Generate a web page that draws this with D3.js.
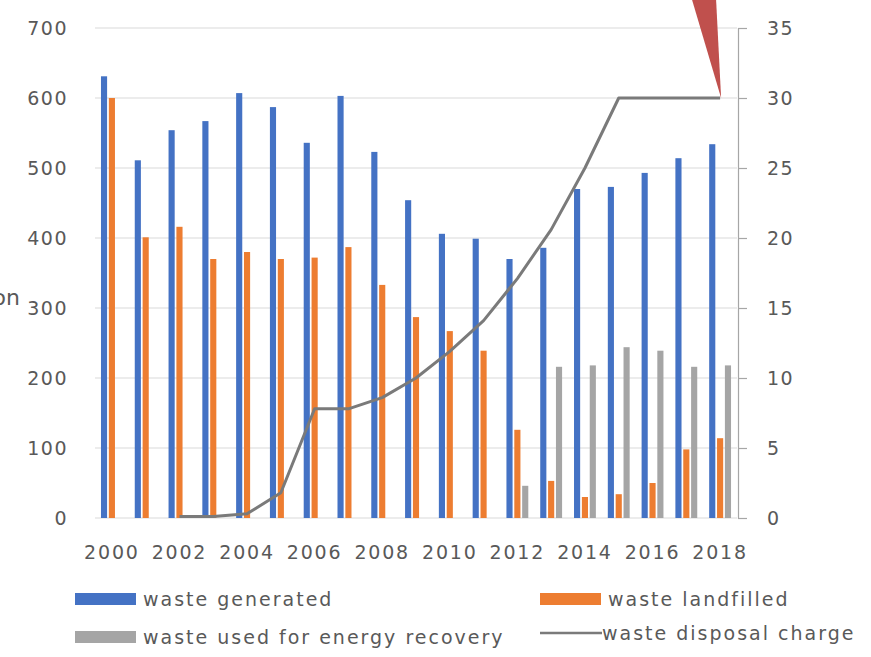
<!DOCTYPE html>
<html>
<head>
<meta charset="utf-8">
<script src="https://cdn.jsdelivr.net/npm/d3@7"></script>
<style>
  html, body { margin: 0; padding: 0; background: #fff; }
  svg { display: block; }
  text { font-family: "DejaVu Sans", sans-serif; fill: #595959; }
</style>
</head>
<body>
<svg id="chart" width="871" height="657"></svg>
<script>
// Municipal waste (thousand tonnes, left axis) and disposal charge (right axis)
const years = d3.range(2000, 2019);
const wasteGenerated = [631, 511, 554, 567, 607, 587, 536, 603, 523, 454, 406, 399, 370, 386, 470, 473, 493, 514, 534];
const wasteLandfilled = [600, 401, 416, 370, 380, 370, 372, 387, 333, 287, 267, 239, 126, 53, 30, 34, 50, 98, 114];
const wasteEnergy = [null, null, null, null, null, null, null, null, null, null, null, null, 46, 216, 218, 244, 239, 216, 218];
const disposalCharge = [null, null, 0.1, 0.1, 0.3, 1.8, 7.8, 7.8, 8.6, 10.0, 11.9, 14.1, 17.1, 20.6, 25.0, 30, 30, 30, 30];
const leftTicks = [0, 100, 200, 300, 400, 500, 600, 700];
const rightTicks = [0, 5, 10, 15, 20, 25, 30, 35];
const yearLabels = years.filter(y => y % 2 === 0);

const series = [
  { key: "waste generated", values: wasteGenerated, color: "#4472c4" },
  { key: "waste landfilled", values: wasteLandfilled, color: "#ed7d31" },
  { key: "waste used for energy recovery", values: wasteEnergy, color: "#a5a5a5" }
];
const lineColor = "#7a7a7a";

const svg = d3.select("#chart");
const plot = { left: 95, right: 737, top: 28, bottom: 518 };

const x0 = d3.scaleBand().domain(years).range([plot.left, plot.right])
  .paddingInner(0.33).paddingOuter(0.165);
const x1 = d3.scaleBand().domain(series.map(s => s.key)).range([0, x0.bandwidth()])
  .paddingInner(0.22).paddingOuter(0.05);
const yL = d3.scaleLinear().domain([0, 700]).range([plot.bottom, plot.top]);
const yR = d3.scaleLinear().domain([0, 35]).range([plot.bottom, plot.top]);
const cx = yr => x0(yr) + x0.bandwidth() / 2;

// horizontal gridlines
svg.append("g")
  .selectAll("line").data(leftTicks).join("line")
  .attr("x1", plot.left).attr("x2", plot.right)
  .attr("y1", d => yL(d)).attr("y2", d => yL(d))
  .attr("stroke", "#d9d9d9").attr("stroke-width", 1.2);

// left axis labels (no axis line)
const axL = d3.axisLeft(yL).tickValues(leftTicks).tickSize(0).tickPadding(0);
svg.append("g").attr("transform", `translate(${68},0)`).call(axL)
  .call(g => g.select(".domain").remove())
  .selectAll("text").attr("font-size", 19).attr("fill", "#595959")
  .style("letter-spacing", "1.5px").attr("dy", "0.35em");

// right axis
const axR = d3.axisRight(yR).tickValues(rightTicks).tickSize(9).tickPadding(20);
svg.append("g").attr("transform", `translate(${plot.right + 1},0)`).call(axR)
  .call(g => g.select(".domain").attr("stroke", "#a6a6a6").attr("stroke-width", 1.2))
  .call(g => g.selectAll(".tick line").attr("stroke", "#a6a6a6").attr("stroke-width", 1.2))
  .selectAll("text").attr("font-size", 19).attr("fill", "#595959")
  .style("letter-spacing", "1.5px").attr("font-family", "DejaVu Sans");

// x-axis year labels (every other year)
svg.append("g").selectAll("text").data(yearLabels).join("text")
  .attr("x", d => cx(d)).attr("y", 559)
  .attr("text-anchor", "middle").attr("font-size", 19)
  .style("letter-spacing", "1.8px")
  .text(d => d);

// truncated axis title at the left edge
svg.append("text").attr("x", 20).attr("y", 305).attr("text-anchor", "end")
  .attr("font-size", 22).text("ton");

// grouped bars
const bars = svg.append("g");
series.forEach(s => {
  bars.append("g").selectAll("rect")
    .data(years.map((yr, i) => ({ yr, v: s.values[i] })).filter(d => d.v != null))
    .join("rect")
    .attr("x", d => x0(d.yr) + x1(s.key))
    .attr("width", x1.bandwidth())
    .attr("y", d => yL(d.v))
    .attr("height", d => yL(0) - yL(d.v))
    .attr("fill", s.color);
});

// disposal charge line
const chargePts = years.map((yr, i) => ({ yr, v: disposalCharge[i] })).filter(d => d.v != null);
svg.append("path").datum(chargePts)
  .attr("fill", "none").attr("stroke", lineColor).attr("stroke-width", 3)
  .attr("stroke-linejoin", "round")
  .attr("d", d3.line().x(d => cx(d.yr)).y(d => yR(d.v)));

// callout pointer to the latest charge value
const last = chargePts[chargePts.length - 1];
const tipX = cx(last.yr), tipY = yR(last.v);
svg.append("path")
  .attr("d", `M${tipX - 28},0 L${tipX - 4},0 L${tipX + 1},${tipY} Z`)
  .attr("fill", "#c0504d");

// legend
const legend = [
  { label: "waste generated", color: "#4472c4", type: "rect", x: 75, y: 599 },
  { label: "waste landfilled", color: "#ed7d31", type: "rect", x: 540, y: 599 },
  { label: "waste used for energy recovery", color: "#a5a5a5", type: "rect", x: 75, y: 637 },
  { label: "waste disposal charge", color: lineColor, type: "line", x: 540, y: 633 }
];
const lg = svg.append("g").selectAll("g").data(legend).join("g")
  .attr("transform", d => `translate(${d.x},${d.y})`);
lg.filter(d => d.type === "rect").append("rect")
  .attr("x", 0).attr("y", -6).attr("width", 61).attr("height", 12)
  .attr("fill", d => d.color);
lg.filter(d => d.type === "line").append("line")
  .attr("x1", 0).attr("x2", 62).attr("y1", 0).attr("y2", 0)
  .attr("stroke", d => d.color).attr("stroke-width", 2.5);
lg.append("text")
  .attr("x", d => d.type === "line" ? 62 : 68).attr("y", 7)
  .attr("font-size", 19).style("letter-spacing", "2px")
  .text(d => d.label);
</script>
</body>
</html>
